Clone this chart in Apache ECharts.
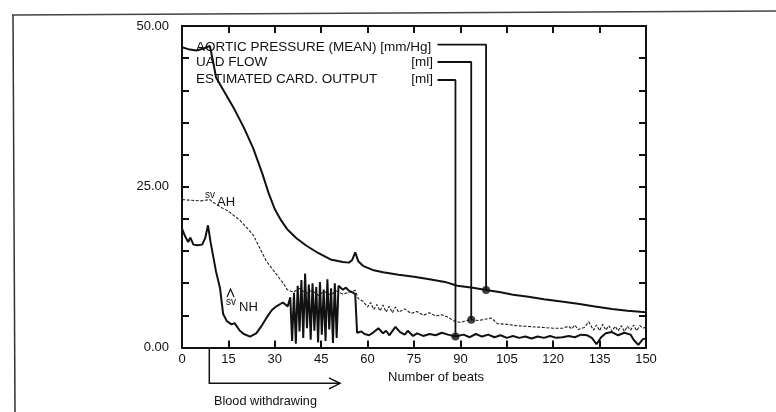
<!DOCTYPE html>
<html>
<head>
<meta charset="utf-8">
<script src="https://cdn.jsdelivr.net/npm/echarts@6/dist/echarts.min.js"></script>
<style>
html,body{margin:0;padding:0;background:#fff;}
#chart{width:776px;height:412px;}
</style>
</head>
<body>
<div id="chart"></div>
<script>
// ---- data ----
var xTicks = [0, 15, 30, 45, 60, 75, 90, 105, 120, 135, 150];
var yTickLabels = ['0.00', '25.00', '50.00'];

var aorticBeats  = [0, 2, 4.7, 7, 9, 10, 11, 14, 17, 20, 23, 26, 28, 30, 32, 34, 37, 40, 44, 48, 52, 54, 55, 56, 57, 58.5, 62, 65, 70, 75, 80, 85, 89, 94, 98.3, 103, 107, 112, 117, 122, 128, 133, 139, 144, 150];
var aorticValues = [46.7, 46.4, 46.2, 46.5, 46.9, 44.6, 42.0, 39.5, 37.0, 34.2, 31.0, 27.0, 24.0, 21.5, 19.8, 18.4, 17.0, 15.9, 14.7, 13.7, 13.3, 13.2, 13.6, 14.8, 13.4, 12.7, 12.0, 11.7, 11.3, 11.0, 10.6, 10.2, 9.6, 9.3, 8.95, 8.6, 8.2, 7.9, 7.5, 7.2, 6.8, 6.4, 6.0, 5.7, 5.5];

var svAHBeats  = [0, 3, 6, 9, 10, 12, 13, 15, 18.7, 21, 23, 25, 27.3, 30.5, 33, 34, 36, 38, 40, 42, 44, 46, 48, 50, 52, 54, 56, 57, 58.5, 60, 61, 62, 63, 64, 65, 66, 67, 68, 69, 70, 72, 74, 76, 78, 80, 82, 84, 86, 88, 90, 92, 93.5, 96, 98, 100, 102, 105, 108, 111, 114, 117, 120, 123, 125, 126, 127, 128, 130, 131.5, 133, 134, 135, 136, 137, 138, 139, 140, 141, 142, 143, 144, 145, 146, 147, 148, 149, 150];
var svAHValues = [23.0, 22.9, 22.8, 23.0, 22.6, 22.0, 21.7, 21.2, 19.8, 18.6, 17.5, 15.6, 13.4, 11.4, 9.8, 9.0, 8.6, 9.2, 8.4, 8.9, 8.1, 8.7, 8.2, 8.8, 8.3, 8.6, 8.9, 7.6, 7.2, 6.3, 7.0, 5.9, 6.7, 5.7, 6.6, 5.5, 6.4, 5.4, 6.3, 5.5, 6.0, 5.3, 5.6, 5.0, 5.4, 4.9, 5.1, 4.7, 4.1, 3.9, 4.2, 4.3, 4.2, 4.4, 4.6, 3.7, 3.6, 3.4, 3.3, 3.2, 3.1, 3.0, 3.0, 3.3, 2.9, 3.5, 2.8, 3.1, 4.0, 2.7, 3.5, 2.6, 3.6, 2.7, 3.4, 2.5, 3.3, 2.6, 3.4, 2.5, 3.3, 2.7, 3.5, 2.6, 3.4, 3.0, 3.2];

var svNHBeats  = [0, 1, 2, 2.7, 3.7, 5, 6.5, 7.5, 8.4, 9.2, 10, 11, 12.3, 13.3, 14.5, 16, 17, 18.7, 20, 22, 24, 25.5, 27.3, 29, 30.5, 32.6, 34.2, 35, 35.6, 36.2, 36.8, 37.4, 38.0, 38.6, 39.2, 39.8, 40.4, 41.0, 41.6, 42.2, 42.8, 43.4, 44.0, 44.6, 45.2, 45.8, 46.4, 47.0, 47.6, 48.2, 48.8, 49.4, 50.0, 50.6, 51.2, 52, 53, 54, 55, 56, 56.4, 56.6, 58, 59, 60.5, 62, 63.5, 65, 66, 67, 69, 70.5, 72, 73, 74.7, 76, 78, 80, 82, 84, 86, 88.4, 91, 93, 95, 97, 99, 101, 103, 105, 107, 109, 111, 113, 115, 117, 119, 121, 123, 125, 127, 129, 131, 132.5, 134, 135.5, 137, 139, 141, 143, 145, 146, 147.5, 149, 150];
var svNHValues = [18.5, 17.3, 16.4, 17.1, 16.0, 15.9, 16.0, 17.0, 19.0, 16.5, 14.4, 11.8, 9.2, 5.2, 4.1, 3.6, 3.8, 2.6, 2.1, 1.7, 2.2, 3.2, 4.6, 5.8, 6.4, 7.0, 6.4, 7.8, 1.0, 8.5, 0.6, 9.6, 2.5, 10.5, 1.5, 11.5, 3.0, 9.8, 1.2, 10.0, 2.6, 9.4, 0.8, 10.2, 2.0, 9.0, 1.0, 10.6, 2.8, 9.2, 0.7, 10.0, 1.5, 9.6, 9.4, 9.0, 9.3, 8.8, 8.6, 8.3, 8.0, 2.3, 2.5, 2.1, 1.9, 2.4, 3.0, 2.2, 2.6, 1.9, 3.2, 2.4, 2.0, 2.6, 1.8, 2.2, 1.8, 2.1, 1.9, 2.3, 2.0, 1.7, 2.0, 1.6, 2.1, 1.7, 2.0, 1.6, 1.9, 1.5, 1.8, 1.5, 1.7, 1.4, 1.7, 1.5, 1.8, 1.5, 1.6, 1.8, 1.6, 2.0, 1.9, 1.5, 0.5, 1.6, 2.2, 2.4, 1.9, 2.3, 2.0, 1.2, 0.4, 1.3, 1.4];

// leader lines from legend labels to marked points [beat, value]
var aorticLeader = [[82.6, 47.1], [98.3, 47.1], [98.3, 8.95]];
var flowLeader   = [[82.6, 44.4], [93.5, 44.4], [93.5, 4.3]];
var outputLeader = [[82.6, 41.6], [88.4, 41.6], [88.4, 1.7]];
var markedPoints = [[98.3, 8.95], [93.5, 4.3], [88.4, 1.7]];

function zip(a, b) { return a.map(function (x, i) { return [x, b[i]]; }); }

var FONT = 'Liberation Sans, Arial, sans-serif';
var chart = echarts.init(document.getElementById('chart'), null, {renderer: 'canvas'});

var axisLineStyle = {color: '#111', width: 2};
var tickStyle = {show: true, inside: true, length: 7, lineStyle: {color: '#111', width: 2}};

function leader(d) {
  return {type: 'line', data: d, symbol: 'none', lineStyle: {color: '#111', width: 1.8}, z: 5, silent: true};
}

chart.setOption({
  animation: false,
  backgroundColor: '#fff',
  grid: {left: 182, right: 130, top: 26, bottom: 64.5},
  xAxis: [
    {type: 'value', min: 0, max: 150, interval: 15, position: 'bottom',
     axisLine: {show: true, onZero: false, lineStyle: axisLineStyle}, axisTick: tickStyle, splitLine: {show: false},
     axisLabel: {color: '#111', fontSize: 13, fontFamily: FONT, margin: 5,
       formatter: function (v) { return xTicks.indexOf(v) >= 0 ? String(v) : ''; }}},
    {type: 'value', min: 0, max: 150, interval: 15, position: 'top',
     axisLine: {show: true, onZero: false, lineStyle: axisLineStyle}, axisTick: tickStyle, splitLine: {show: false},
     axisLabel: {show: false}}
  ],
  yAxis: [
    {type: 'value', min: 0, max: 50, interval: 5, position: 'left',
     axisLine: {show: true, onZero: false, lineStyle: axisLineStyle}, axisTick: tickStyle, splitLine: {show: false},
     axisLabel: {color: '#111', fontSize: 13, fontFamily: FONT, margin: 13,
       formatter: function (v) { return v % 25 === 0 ? yTickLabels[v / 25] : ''; }}},
    {type: 'value', min: 0, max: 50, interval: 5, position: 'right',
     axisLine: {show: true, onZero: false, lineStyle: axisLineStyle}, axisTick: tickStyle, splitLine: {show: false},
     axisLabel: {show: false}}
  ],
  series: [
    {type: 'line', name: 'Aortic pressure', data: zip(aorticBeats, aorticValues), symbol: 'none',
     lineStyle: {color: '#111', width: 2}, z: 4},
    {type: 'line', name: 'sv AH', data: zip(svAHBeats, svAHValues), symbol: 'none',
     lineStyle: {color: '#222', width: 1.1, type: [3, 1.6]}, z: 3},
    {type: 'line', name: 'sv NH', data: zip(svNHBeats, svNHValues), symbol: 'none',
     lineStyle: {color: '#111', width: 2}, z: 4},
    leader(aorticLeader), leader(flowLeader), leader(outputLeader),
    {type: 'scatter', data: markedPoints, symbol: 'circle', symbolSize: 8,
     itemStyle: {color: '#111'}, z: 6, silent: true}
  ],
  graphic: [
    // outer frame
    {type: 'line', shape: {x1: 12, y1: 15, x2: 776, y2: 11}, style: {stroke: '#444', lineWidth: 1.5}},
    {type: 'line', shape: {x1: 13, y1: 15, x2: 15, y2: 412}, style: {stroke: '#333', lineWidth: 1.5}},
    // legend texts
    {type: 'text', left: 196, top: 40, style: {text: 'AORTIC PRESSURE (MEAN) [mm/Hg]', font: '13.5px ' + FONT, fill: '#111'}},
    {type: 'text', left: 196, top: 55.5, style: {text: 'UAD FLOW', font: '13.5px ' + FONT, fill: '#111'}},
    {type: 'text', left: 196, top: 72, style: {text: 'ESTIMATED CARD. OUTPUT', font: '13.5px ' + FONT, fill: '#111'}},
    {type: 'text', x: 433, y: 55.5, style: {text: '[ml]', font: '13.5px ' + FONT, fill: '#111', align: 'right'}},
    {type: 'text', x: 433, y: 72.5, style: {text: '[ml]', font: '13.5px ' + FONT, fill: '#111', align: 'right'}},
    // curve labels
    {type: 'text', x: 205, y: 190, style: {text: 'sv', font: '10px ' + FONT, fill: '#111'}},
    {type: 'text', x: 217, y: 196, style: {text: 'AH', font: '13px ' + FONT, fill: '#111'}},
    {type: 'polyline', shape: {points: [[227, 297], [230.5, 289], [234, 297]]}, style: {stroke: '#111', lineWidth: 1.2, fill: null}},
    {type: 'text', x: 226, y: 297, style: {text: 'sv', font: '10px ' + FONT, fill: '#111'}},
    {type: 'text', x: 239, y: 301, style: {text: 'NH', font: '13px ' + FONT, fill: '#111'}},
    // x axis title
    {type: 'text', x: 388, y: 371, style: {text: 'Number of beats', font: '13px ' + FONT, fill: '#111'}},
    // blood withdrawing arrow
    {type: 'polyline', shape: {points: [[209.3, 348], [209.3, 383.3], [340, 383.3]]}, style: {stroke: '#111', lineWidth: 1.5, fill: null}},
    {type: 'polyline', shape: {points: [[329, 377.8], [340, 383.3], [329, 388.8]]}, style: {stroke: '#111', lineWidth: 1.5, fill: null}},
    {type: 'text', x: 214, y: 395, style: {text: 'Blood withdrawing', font: '12.7px ' + FONT, fill: '#111'}}
  ]
});
</script>
</body>
</html>
